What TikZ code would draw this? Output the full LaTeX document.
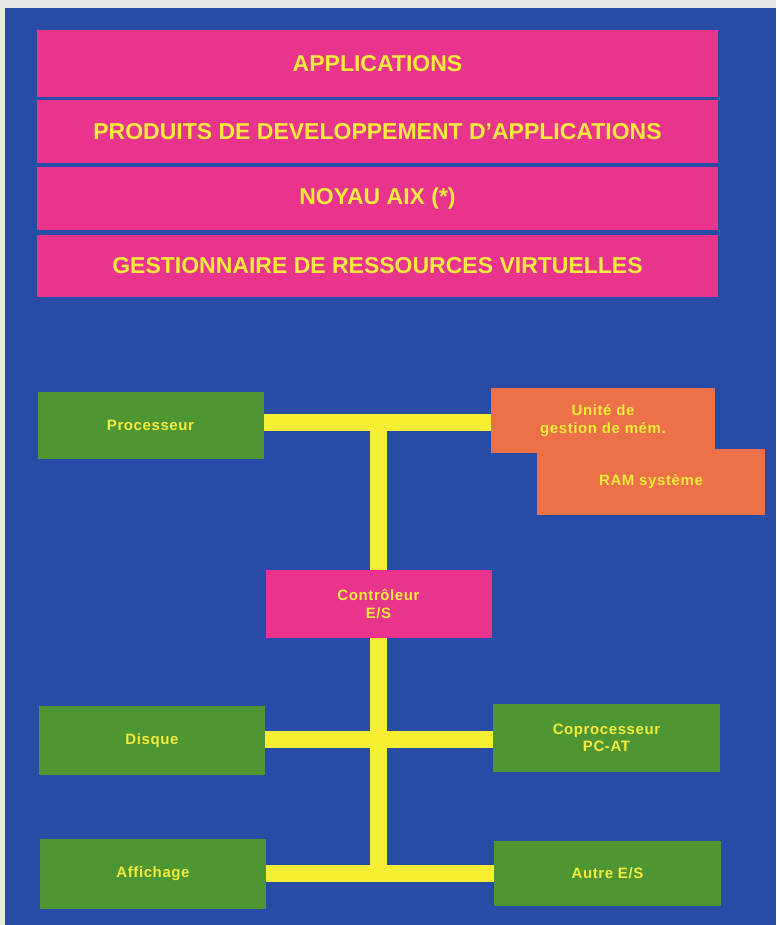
\documentclass[tikz,border=0pt]{standalone}
\usepackage{fontspec}
\setmainfont{Liberation Sans}
\newfontfamily\boxfont[LetterSpace=4]{Liberation Sans}
\definecolor{papier}{RGB}{234,232,229}
\definecolor{fond}{RGB}{40,75,165}
\definecolor{rose}{RGB}{232,52,140}
\definecolor{jaune}{RGB}{245,235,60}
\definecolor{vert}{RGB}{78,150,50}
\definecolor{orange}{RGB}{236,112,72}
\definecolor{jaunebus}{RGB}{247,240,50}
\begin{document}
\begin{tikzpicture}[x=1pt,y=-1pt,
  layer/.style={fill=rose,text=jaune,minimum width=681pt,inner sep=0pt,font=\bfseries\fontsize{23}{26}\selectfont},
  unit/.style={fill=vert,text=jaune,minimum width=226pt,minimum height=67pt,inner sep=0pt,align=center,font=\boxfont\bfseries\fontsize{15}{17.5}\selectfont},
  mem/.style={unit,fill=orange},
  bus/.style={draw=jaunebus,line width=17pt}]
  \fill[papier] (0,0) rectangle (776,925); \fill[fond] (5,8) rectangle (776,925);
  \foreach \i/\yc/\h/\txt in {1/63.5/67/APPLICATIONS, 2/131.5/63/{PRODUITS DE DEVELOPPEMENT D'APPLICATIONS}, 3/198.5/63/{NOYAU AIX (*)}, 4/266/62/{GESTIONNAIRE DE RESSOURCES VIRTUELLES}}
    \node[layer,minimum height=\h pt] (c\i) at (377.5,\yc) {\txt};
  \node[unit] (proc) at (150.5,425.5) {Processeur};
  \node[mem,minimum width=228pt,minimum height=66pt] (ram) at (651,482) {RAM système};
  \node[mem,minimum width=224pt,minimum height=65pt] (mmu) at (603,420.5) {Unité de\\gestion de mém.};
  \node[unit,fill=rose,minimum height=68pt] (ctrl) at (378.5,604) {Contrôleur\\E/S};
  \node[unit,minimum height=69pt] (disk) at (152,740.5) {Disque};
  \node[unit,minimum width=227pt,minimum height=68pt] (copro) at (606.5,738) {Coprocesseur\\PC-AT};
  \node[unit,minimum height=70pt] (disp) at (153,874) {Affichage};
  \node[unit,minimum width=227pt,minimum height=65pt] (other) at (607.5,873.5) {Autre E/S};
  \coordinate (j1) at (378.5,422); \coordinate (j2) at (378.5,739); \coordinate (j3) at (378.5,873);
  \draw[bus](proc.east|-j1)--(mmu.west|-j1); \draw[bus](j1)--(ctrl.north); \draw[bus](ctrl.south)--(j3);
  \draw[bus](disk.east|-j2)--(copro.west|-j2); \draw[bus](disp.east|-j3)--(other.west|-j3);
\end{tikzpicture}
\end{document}
